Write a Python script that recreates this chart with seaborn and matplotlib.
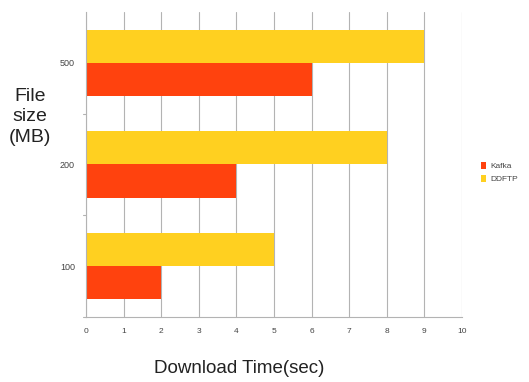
import matplotlib
matplotlib.use("Agg")
import matplotlib.pyplot as plt
import seaborn as sns
import pandas as pd
from matplotlib.patches import Patch

# Download times per file size
file_sizes = ["500", "200", "100"]
kafka_times = [6, 4, 2]
ddftp_times = [9, 8, 5]
series_names = ["Kafka", "DDFTP"]
x_ticks = list(range(0, 11))

colors = {"Kafka": "#FF420E", "DDFTP": "#FFD020"}

df = pd.DataFrame({
    "size": file_sizes * 2,
    "time": kafka_times + ddftp_times,
    "system": ["Kafka"] * len(file_sizes) + ["DDFTP"] * len(file_sizes),
})

sns.set_style("white")
plt.rcParams["font.family"] = ["Liberation Sans", "DejaVu Sans"]

fig = plt.figure(figsize=(5.29, 3.82), dpi=100)
ax = fig.add_axes([0.1626, 0.1702, 0.8733 - 0.1626, 0.9686 - 0.1702])

sns.barplot(data=df, x="time", y="size", hue="system", order=file_sizes,
            hue_order=["DDFTP", "Kafka"], palette=colors, orient="h",
            width=0.65, saturation=1, edgecolor="none", linewidth=0,
            legend=False, ax=ax)

ax.set_xlim(0, 10)
ax.set_ylim(2.5, -0.5)
ax.set_xticks(x_ticks)
ax.set_xticklabels([str(t) for t in x_ticks], fontsize=6, color="#444444")
ax.tick_params(axis="x", length=4, width=0.8, color="#b3b3b3", pad=4)
ax.tick_params(axis="y", length=0, labelsize=6.5, labelcolor="#444444", pad=8)

# group separator ticks on the category axis
for yb in [0.5, 1.5, 2.5]:
    ax.plot([-0.08, 0], [yb, yb], color="#b3b3b3", lw=0.8, clip_on=False)

ax.grid(axis="x", color="#b3b3b3", linewidth=0.8)
ax.grid(axis="y", visible=False)
ax.set_axisbelow(True)
for side in ["top", "right"]:
    ax.spines[side].set_visible(False)
for side in ["left", "bottom"]:
    ax.spines[side].set_color("#b3b3b3")
    ax.spines[side].set_linewidth(0.8)

ax.set_xlabel("")
ax.set_ylabel("")
fig.text(0.452, 0.035, "Download Time(sec)", ha="center", va="center",
         fontsize=13.5, color="#222222")
fig.text(0.057, 0.694, "File\nsize\n(MB)", ha="center", va="center",
         fontsize=14, color="#222222", linespacing=1.25)

handles = [Patch(facecolor=colors[n], edgecolor="none") for n in series_names]
fig.legend(handles, series_names, loc="center left",
           bbox_to_anchor=(0.895, 0.548), frameon=False, fontsize=6,
           handlelength=0.6, handleheight=0.9, handletextpad=0.5,
           labelspacing=0.6, labelcolor="#444444")

fig.savefig("out.png", dpi=100)
